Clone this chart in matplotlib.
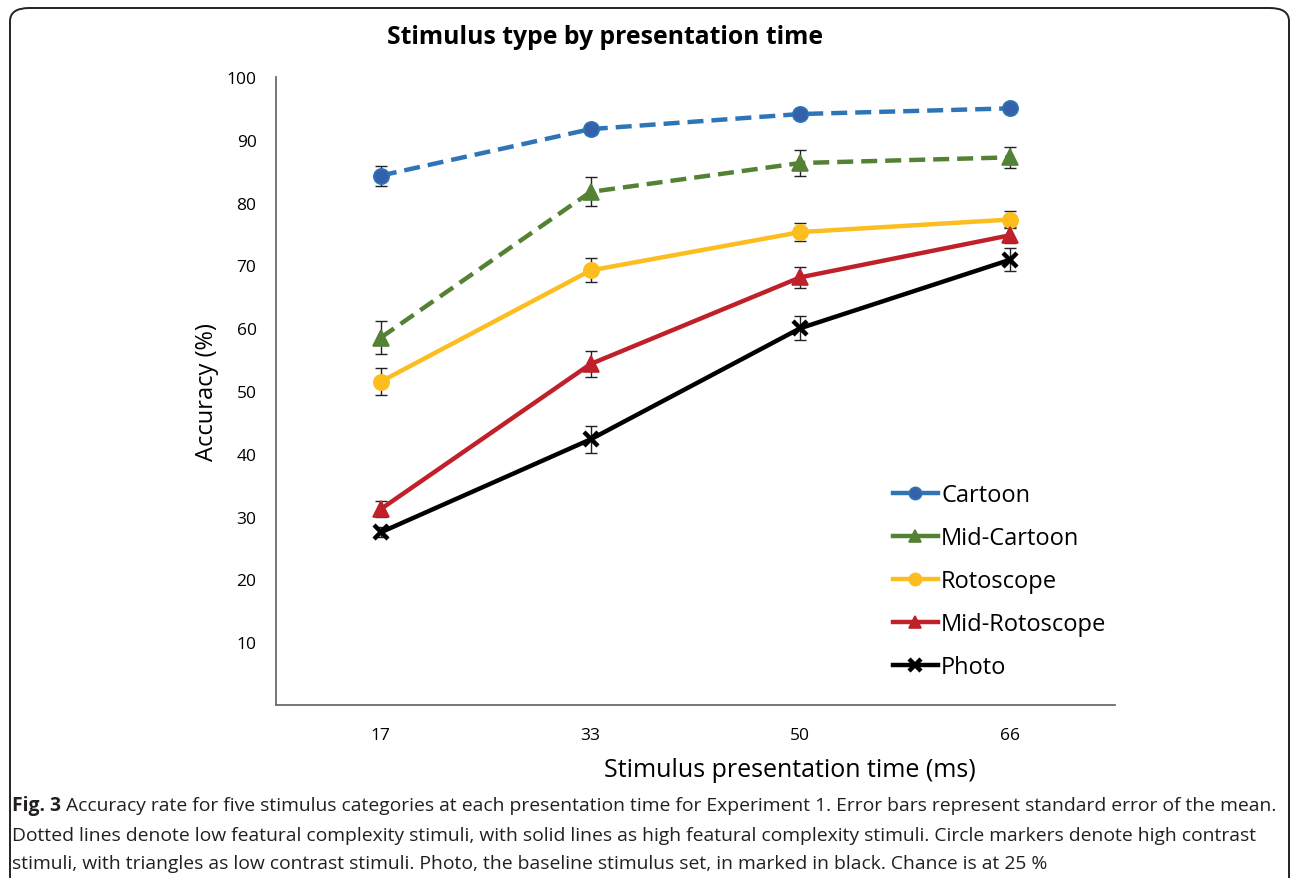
import matplotlib
matplotlib.use("Agg")
import matplotlib.pyplot as plt
from matplotlib.patches import FancyBboxPatch
import numpy as np

plt.rcParams['font.family'] = ['Open Sans', 'DejaVu Sans']

times = ['17', '33', '50', '66']
yticks = [10, 20, 30, 40, 50, 60, 70, 80, 90, 100]

series = ['Cartoon', 'Mid-Cartoon', 'Rotoscope', 'Mid-Rotoscope', 'Photo']
cartoon = [84.3, 91.7, 94.1, 95.0]
cartoon_se = [1.6, 0.8, 0.5, 0.3]
mid_cartoon = [58.5, 81.7, 86.3, 87.2]
mid_cartoon_se = [2.6, 2.3, 2.1, 1.7]
rotoscope = [51.5, 69.2, 75.3, 77.3]
rotoscope_se = [2.1, 1.9, 1.4, 1.4]
mid_rotoscope = [31.2, 54.3, 68.1, 74.8]
mid_rotoscope_se = [1.3, 2.0, 1.7, 1.3]
photo = [27.5, 42.3, 60.0, 70.9]
photo_se = [0.8, 2.2, 1.9, 1.8]

values = [cartoon, mid_cartoon, rotoscope, mid_rotoscope, photo]
errors = [cartoon_se, mid_cartoon_se, rotoscope_se, mid_rotoscope_se, photo_se]
colors = ['#2E75B6', '#548235', '#FBBE1E', '#C0202A', '#000000']
faces = ['#3462AA', '#548235', '#FBBE1E', '#C0202A', '#000000']
markers = ['o', '^', 'o', '^', 'x']
dashed = [True, True, False, False, False]

fig = plt.figure(figsize=(12.92, 8.79), dpi=100)
ax = fig.add_axes([0.2136, 0.1968, 0.6494, 0.7145])

x = np.arange(len(times))
for name, vals, se, c, fc, m, d in zip(series, values, errors, colors, faces, markers, dashed):
    ax.errorbar(x, vals, yerr=se, fmt='none', ecolor='#222222', elinewidth=1.0,
                capsize=4, capthick=1.0, zorder=2)
    line, = ax.plot(x, vals, color=c, lw=3.2, marker=m, ms=11 if m != 'x' else 10,
                    mew=3.2 if m == 'x' else 1.2, mfc=fc, mec=c, label=name, zorder=3)
    if d:
        line.set_dashes((3.6, 1.8))

ax.set_xlim(-0.5, 3.5)
ax.set_ylim(0, 100)
ax.set_xticks(x)
ax.set_xticklabels(times, fontsize=12.5)
ax.set_yticks(yticks)
ax.set_yticklabels([str(t) for t in yticks], fontsize=12.5)
ax.tick_params(length=0, pad=14)
ax.tick_params(axis='x', pad=16)
for s in ['top', 'right']:
    ax.spines[s].set_visible(False)
for s in ['left', 'bottom']:
    ax.spines[s].set_color('#6b6b6b')
    ax.spines[s].set_linewidth(1.3)

ax.set_ylabel('Accuracy (%)', fontsize=17)
ax.yaxis.set_label_coords(-0.068, 0.5)
fig.text(790 / 1292, 1 - 771 / 879, 'Stimulus presentation time (ms)', fontsize=18,
         ha='center', va='center')
fig.text(605 / 1292, 1 - 38 / 879, 'Stimulus type by presentation time', fontsize=17.8,
         fontweight='bold', ha='center', va='center')

leg = ax.legend(loc='upper left', bbox_to_anchor=(0.735, 0.353), frameon=False,
                fontsize=17, handlelength=1.9, handletextpad=0.15, labelspacing=0.8,
                borderpad=0, borderaxespad=0, markerscale=0.8)
for h in leg.get_lines():
    h.set_dashes((None, None))
    h.set_linestyle('-')

# outer rounded frame
frame = FancyBboxPatch((10 / 1292, -0.1), 1279 / 1292, 1.1 - 9 / 879,
                       boxstyle='round,pad=0,rounding_size=0.015',
                       transform=fig.transFigure, fill=False, ec='#222222', lw=1.4,
                       clip_on=False)
fig.patches.append(frame)

# caption
cap_col = '#231f20'
lines = [
    ' Accuracy rate for five stimulus categories at each presentation time for Experiment 1. Error bars represent standard error of the mean.',
    'Dotted lines denote low featural complexity stimuli, with solid lines as high featural complexity stimuli. Circle markers denote high contrast',
    'stimuli, with triangles as low contrast stimuli. Photo, the baseline stimulus set, in marked in black. Chance is at 25 %',
]
cap_fs = 13.85
x0 = 12 / 1292
bold = fig.text(x0, 1 - 806 / 879, 'Fig. 3', fontsize=cap_fs, fontweight='bold',
                color=cap_col, va='center', ha='left')
fig.canvas.draw()
bb = bold.get_window_extent().transformed(fig.transFigure.inverted())
fig.text(bb.x1, 1 - 806 / 879, lines[0], fontsize=cap_fs, color=cap_col, va='center', ha='left')
fig.text(x0, 1 - 836 / 879, lines[1], fontsize=cap_fs, color=cap_col, va='center', ha='left')
fig.text(x0, 1 - 864 / 879, lines[2], fontsize=cap_fs, color=cap_col, va='center', ha='left')

fig.savefig('out.png', dpi=100)
